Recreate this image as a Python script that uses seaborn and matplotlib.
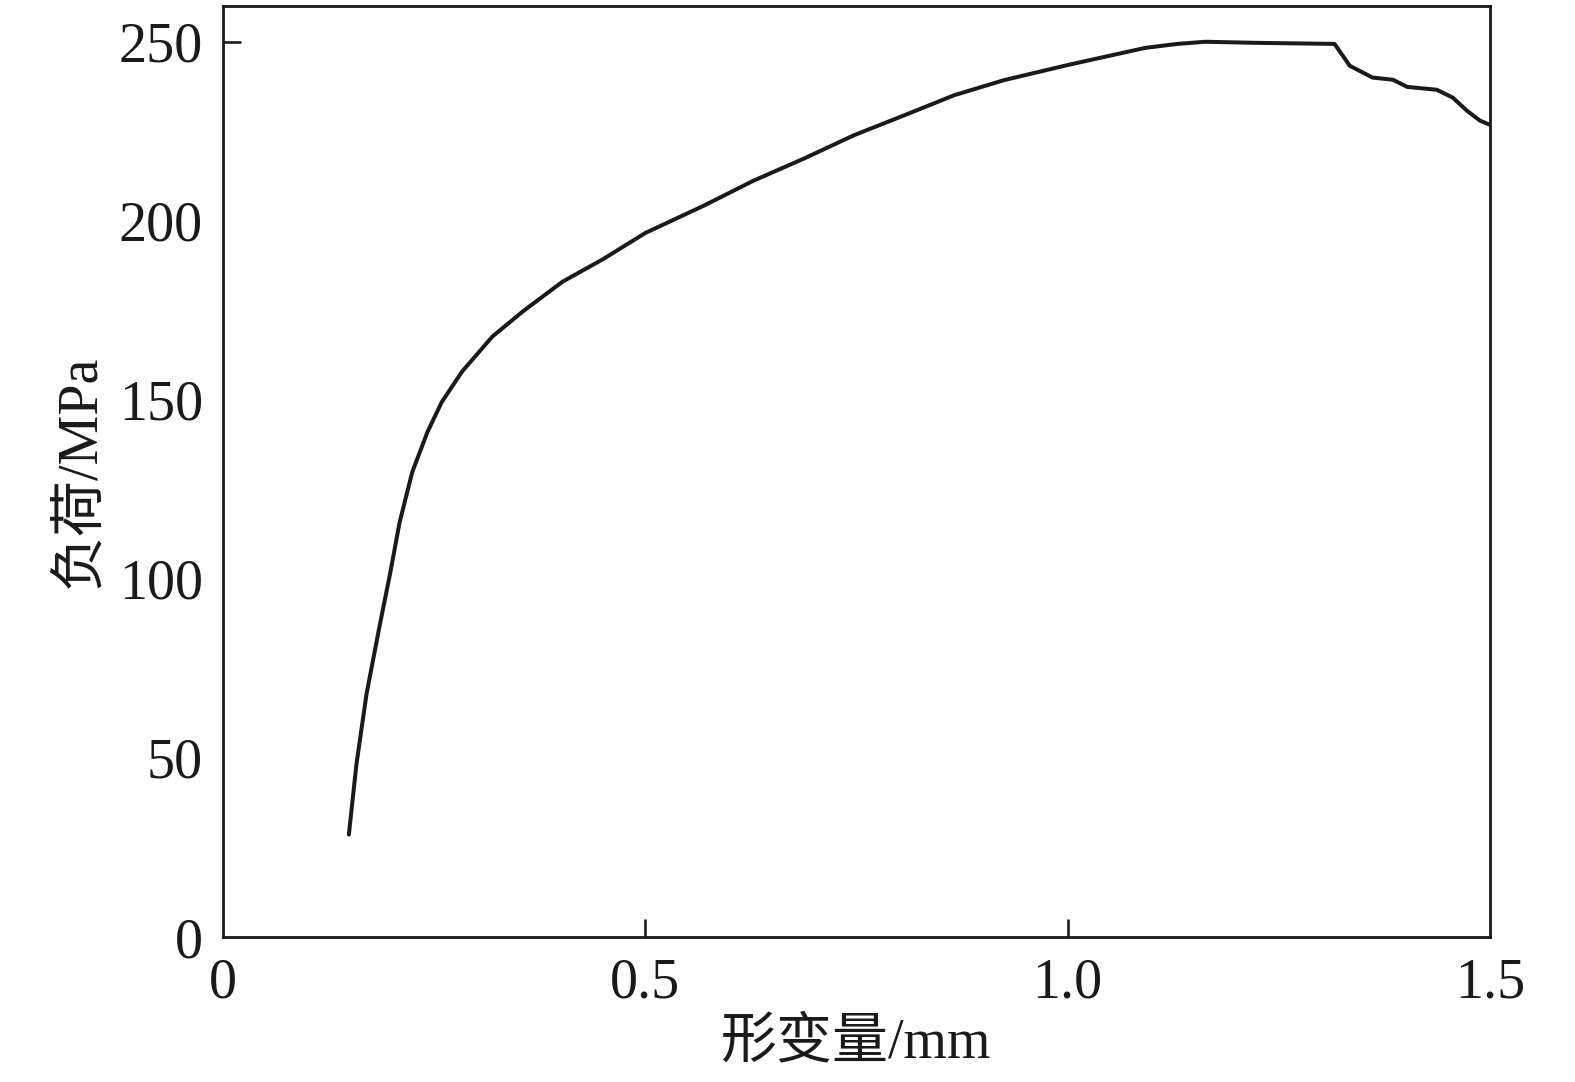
import numpy as np
import pandas as pd
import matplotlib
matplotlib.use("Agg")
import matplotlib.pyplot as plt
import seaborn as sns

# 曲线数据
deform = [0.149, 0.158, 0.170, 0.186, 0.198, 0.209, 0.224, 0.242, 0.259, 0.283,
          0.319, 0.355, 0.402, 0.450, 0.500, 0.569, 0.628, 0.688, 0.747, 0.807,
          0.866, 0.925, 1.000, 1.044, 1.092, 1.130, 1.163, 1.223, 1.316, 1.334,
          1.361, 1.385, 1.402, 1.437, 1.456, 1.473, 1.488, 1.500]
load = [28.6, 48.3, 68.0, 87.6, 101.7, 115.7, 129.8, 141.0, 149.4, 157.9,
        167.7, 174.7, 183.0, 189.3, 196.6, 204.2, 211.2, 217.4, 223.9, 229.5,
        235.1, 239.3, 243.5, 245.8, 248.3, 249.4, 250.0, 249.7, 249.4, 243.3,
        240.0, 239.4, 237.4, 236.6, 234.4, 230.7, 228.0, 226.8]

x_ticks = [0, 0.5, 1.0, 1.5]
x_tick_labels = ["0", "0.5", "1.0", "1.5"]
y_ticks = [0, 50, 100, 150, 200, 250]

df = pd.DataFrame({"deform": deform, "load": load})

sns.set_style("ticks")
plt.rcParams['font.family'] = ['Liberation Serif', 'Noto Sans CJK SC']
plt.rcParams['axes.unicode_minus'] = False

fig, ax = plt.subplots(figsize=(1575 / 144, 1082 / 144), dpi=144)
fig.subplots_adjust(left=0.1416, right=0.946, top=0.9945, bottom=0.134)

sns.lineplot(data=df, x="deform", y="load", ax=ax, color="#1a1a1a",
             linewidth=2.0, sort=False)

ax.set_xlim(0, 1.5)
ax.set_ylim(0, 260)
ax.set_xticks(x_ticks)
ax.set_xticklabels(x_tick_labels)
ax.set_yticks(y_ticks)

ax.tick_params(direction="in", length=9, width=1.3, labelsize=28, pad=10,
               colors="#1a1a1a")
# 只保留图中可见的刻度线
for t, v in zip(ax.yaxis.get_major_ticks(), y_ticks):
    t.tick1line.set_visible(v == 250)
for t, v in zip(ax.xaxis.get_major_ticks(), x_ticks):
    t.tick1line.set_visible(v in (0.5, 1.0))

for s in ax.spines.values():
    s.set_visible(True)
    s.set_linewidth(1.4)
    s.set_color("#1a1a1a")

ax.set_xlabel("形变量/mm", fontsize=28, labelpad=4, color="#1a1a1a")
ax.set_ylabel("负荷/MPa", fontsize=28, labelpad=6, color="#1a1a1a")

fig.savefig("out.png", dpi=144)
